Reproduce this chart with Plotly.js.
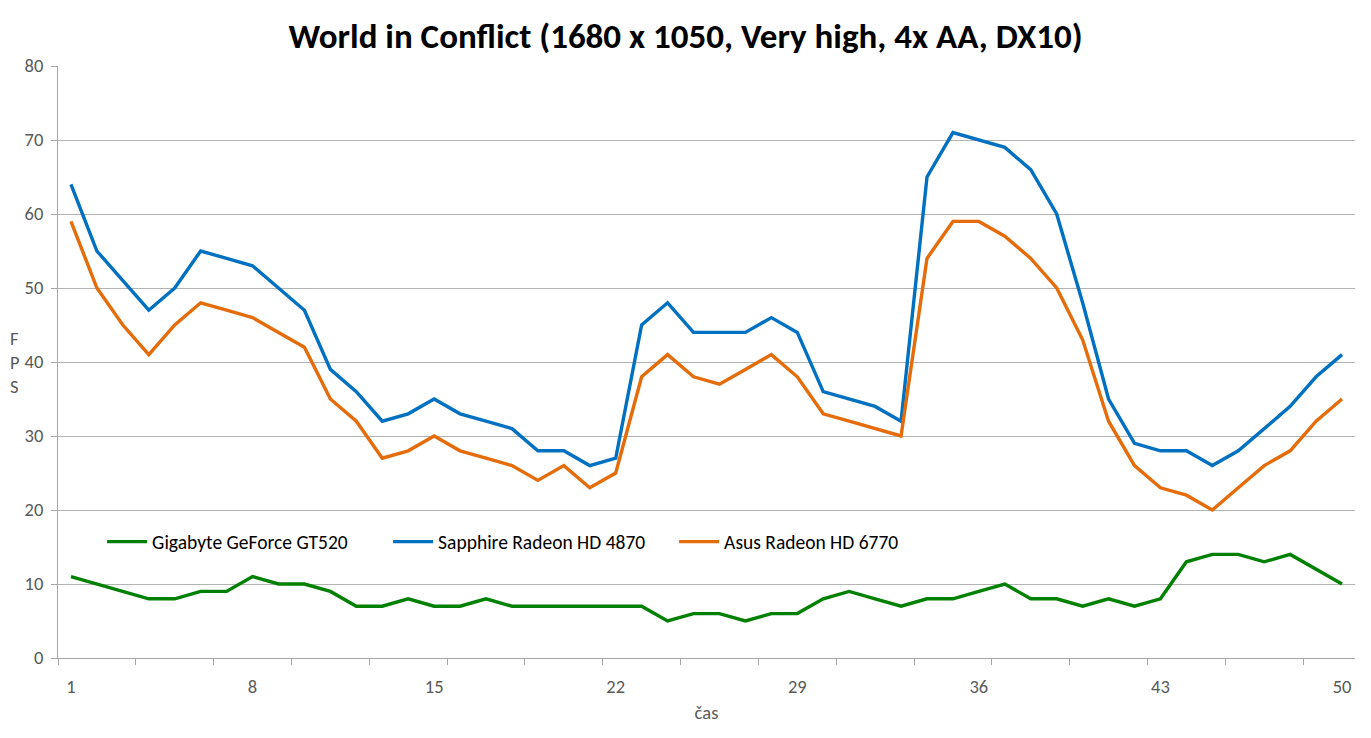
<!DOCTYPE html>
<html>
<head>
<meta charset="utf-8">
<script src="https://cdn.plot.ly/plotly-3.0.1.min.js"></script>
<style>html,body{margin:0;padding:0;background:#fff;}#chart{width:1371px;height:738px;}</style>
</head>
<body>
<div id="chart"></div>
<script>
const time = Array.from({length: 50}, (_, i) => i + 1);
const gigabyteGT520 = [11,10,9,8,8,9,9,11,10,10,9,7,7,8,7,7,8,7,7,7,7,7,7,5,6,6,5,6,6,8,9,8,7,8,8,9,10,8,8,7,8,7,8,13,14,14,13,14,12,10];
const sapphireHD4870 = [64,55,51,47,50,55,54,53,50,47,39,36,32,33,35,33,32,31,28,28,26,27,45,48,44,44,44,46,44,36,35,34,32,65,71,70,69,66,60,48,35,29,28,28,26,28,31,34,38,41];
const asusHD6770 = [59,50,45,41,45,48,47,46,44,42,35,32,27,28,30,28,27,26,24,26,23,25,38,41,38,37,39,41,38,33,32,31,30,54,59,59,57,54,50,43,32,26,23,22,20,23,26,28,32,35];
const xTickLabels = [1,8,15,22,29,36,43,50];
const seriesNames = ['Gigabyte GeForce GT520','Sapphire Radeon HD 4870','Asus Radeon HD 6770'];

const FONT = 'Carlito, Calibri, "Open Sans", sans-serif';
const tickFont = {family: FONT, size: 18.5, color: '#595959'};
const mk = (y, name, color) => ({x: time, y: y, name: name, type: 'scatter', mode: 'lines', line: {color: color, width: 3.4}});
const data = [
  mk(gigabyteGT520, seriesNames[0], '#008000'),
  mk(sapphireHD4870, seriesNames[1], '#0070C0'),
  mk(asusHD6770, seriesNames[2], '#E46C0A'),
  {x: [0.5], y: [null], xaxis: 'x2', showlegend: false, hoverinfo: 'skip', type: 'scatter'}
];
const boundaryTicks = [];
for (let v = 0.5; v <= 50.5; v += 3) boundaryTicks.push(v);

const layout = {
  width: 1371, height: 738,
  margin: {l: 58, r: 16, t: 66, b: 80},
  paper_bgcolor: '#fff', plot_bgcolor: '#fff',
  title: {text: 'World in Conflict (1680 x 1050, Very high, 4x AA, DX10)', font: {family: FONT, size: 35, color: '#000', weight: 'bold'}, x: 0.5, xanchor: 'center', y: 0.951, yanchor: 'middle'},
  xaxis: {range: [0.5, 50.5], tickvals: xTickLabels, ticktext: xTickLabels.map(String), ticks: 'outside', ticklen: 12, tickcolor: 'rgba(0,0,0,0)', showgrid: false, zeroline: false, showline: true, linecolor: '#a6a6a6', linewidth: 1, tickfont: tickFont,
    title: {text: 'čas', font: {family: FONT, size: 18.5, color: '#595959'}, standoff: 8}},
  xaxis2: {range: [0.5, 50.5], overlaying: 'x', anchor: 'y', side: 'bottom', tickvals: boundaryTicks, ticks: 'outside', ticklen: 6, tickcolor: '#a6a6a6', showticklabels: false, showgrid: false, zeroline: false, showline: false},
  yaxis: {range: [0, 80], dtick: 10, ticks: 'outside', ticklen: 6, tickcolor: '#a6a6a6', showgrid: true, gridcolor: '#b3b3b3', gridwidth: 1, zeroline: false, showline: true, linecolor: '#a6a6a6', tickfont: tickFont, ticklabelstandoff: 4},
  showlegend: true,
  legend: {orientation: 'h', x: 0.034, xanchor: 'left', y: 0.196, yanchor: 'middle', font: {family: FONT, size: 19.5, color: '#000'}, bgcolor: 'rgba(0,0,0,0)', entrywidth: 231, itemwidth: 40},
  annotations: [
    {text: 'F<br>P<br>S', xref: 'paper', yref: 'paper', x: -0.0386, y: 0.5, xanchor: 'left', yanchor: 'middle', showarrow: false, align: 'left', font: {family: FONT, size: 18.5, color: '#595959'}}
  ]
};
Plotly.newPlot('chart', data, layout, {displayModeBar: false, staticPlot: true});
</script>
</body>
</html>
